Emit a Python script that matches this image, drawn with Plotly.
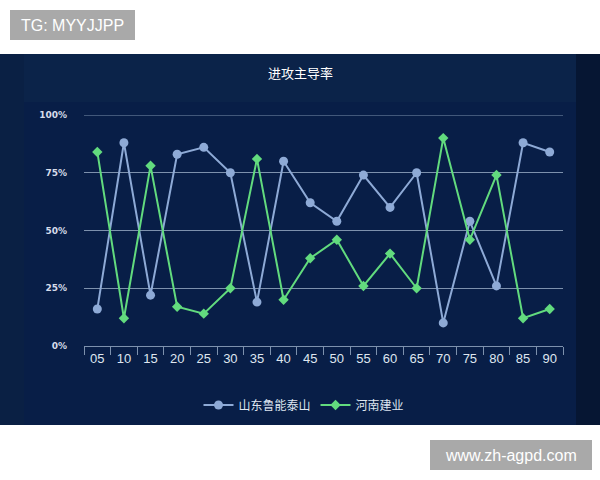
import plotly.graph_objects as go

# Data
minutes = ["05", "10", "15", "20", "25", "30", "35", "40", "45",
           "50", "55", "60", "65", "70", "75", "80", "85", "90"]
shandong = [16, 88, 22, 83, 86, 75, 19, 80, 62, 54, 74, 60, 75, 10, 54, 26, 88, 84]
henan = [84, 12, 78, 17, 14, 25, 81, 20, 38, 46, 26, 40, 25, 90, 46, 74, 12, 16]
y_ticks = [0, 25, 50, 75, 100]
y_labels = ["0%", "25%", "50%", "75%", "100%"]

# Plot area in pixels (600x480 page)
L, R, T, B = 84, 563, 115, 346
W, H = R - L, B - T


def px_x(p):
    return (p - L) / W


def px_y(p):
    return (B - p) / H


cjk = "Noto Sans CJK SC, Noto Sans, sans-serif"
grid_col = "#7d91ad"

fig = go.Figure()

fig.add_trace(go.Scatter(
    x=minutes, y=shandong, name="山东鲁能泰山", mode="lines+markers",
    line=dict(color="#8eaad6", width=2),
    marker=dict(symbol="circle", size=9, color="#8eaad6"),
))
fig.add_trace(go.Scatter(
    x=minutes, y=henan, name="河南建业", mode="lines+markers",
    line=dict(color="#62db7e", width=2),
    marker=dict(symbol="diamond", size=8, color="#62db7e"),
))

shapes = [
    # dark panel
    dict(type="rect", xref="paper", yref="paper", layer="below",
         x0=px_x(0), x1=px_x(600), y0=px_y(425), y1=px_y(54),
         fillcolor="#0b2349", line_width=0),
    # darker right edge
    dict(type="rect", xref="paper", yref="paper", layer="below",
         x0=px_x(576), x1=px_x(600), y0=px_y(425), y1=px_y(54),
         fillcolor="#061633", line_width=0),
    # darker left edge
    dict(type="rect", xref="paper", yref="paper", layer="below",
         x0=px_x(0), x1=px_x(24), y0=px_y(425), y1=px_y(54),
         fillcolor="#0a2044", line_width=0),
    # chart panel
    dict(type="rect", xref="paper", yref="paper", layer="below",
         x0=px_x(24), x1=px_x(576), y0=px_y(425), y1=px_y(102),
         fillcolor="#081e47", line_width=0),
    # top gridline (plotly drops the one on the plot edge)
    dict(type="line", xref="paper", yref="y", layer="below",
         x0=0, x1=1, y0=100, y1=100, line=dict(color=grid_col, width=1)),
    # watermark boxes
    dict(type="rect", xref="paper", yref="paper", layer="below",
         x0=px_x(10), x1=px_x(135), y0=px_y(40), y1=px_y(10),
         fillcolor="#a9a9a9", line_width=0),
    dict(type="rect", xref="paper", yref="paper", layer="below",
         x0=px_x(430), x1=px_x(592), y0=px_y(470), y1=px_y(440),
         fillcolor="#a9a9a9", line_width=0),
]

annotations = [
    dict(text="进攻主导率", xref="paper", yref="paper", x=px_x(300), y=px_y(72),
         xanchor="center", yanchor="middle", showarrow=False,
         font=dict(family=cjk, size=13, color="#ffffff")),
    dict(text="TG: MYYJJPP", xref="paper", yref="paper", x=px_x(72), y=px_y(25),
         xanchor="center", yanchor="middle", showarrow=False,
         font=dict(family="Liberation Sans, Arial", size=16, color="#ffffff")),
    dict(text="www.zh-agpd.com", xref="paper", yref="paper", x=px_x(511), y=px_y(455),
         xanchor="center", yanchor="middle", showarrow=False,
         font=dict(family="Liberation Sans, Arial", size=16, color="#ffffff")),
]

fig.update_layout(
    width=600, height=480,
    margin=dict(l=L, r=600 - R, t=T, b=480 - B, pad=0),
    paper_bgcolor="#ffffff",
    plot_bgcolor="rgba(0,0,0,0)",
    shapes=shapes,
    annotations=annotations,
    font=dict(family=cjk, color="#dfe6f0"),
    legend=dict(orientation="h", x=px_x(304), y=px_y(405), xanchor="center",
                yanchor="middle", font=dict(family=cjk, size=12, color="#dfe6f0"),
                bgcolor="rgba(0,0,0,0)", itemwidth=30),
    xaxis=dict(
        type="category", range=[-0.5, len(minutes) - 0.5],
        showgrid=False, showline=True, linecolor=grid_col, linewidth=1,
        ticks="outside", tickson="boundaries", ticklen=8, tickcolor=grid_col,
        tickfont=dict(family="Liberation Sans, Arial", size=13, color="#dfe6f0"),
        zeroline=False,
    ),
    yaxis=dict(
        range=[0, 100], tickmode="array", tickvals=y_ticks, ticktext=y_labels,
        showgrid=True, gridcolor=grid_col, gridwidth=1,
        showline=False, zeroline=False, ticks="",
        ticklabelstandoff=16,
        tickfont=dict(family="DejaVu Sans, sans-serif", size=9, color="#d6dcea",
                      weight="bold"),
    ),
)

# drop the default 8px body margin so the figure sits at the page corner
fig.write_html("out.html", config={"displayModeBar": False},
               post_script="document.body.style.margin='0';")
